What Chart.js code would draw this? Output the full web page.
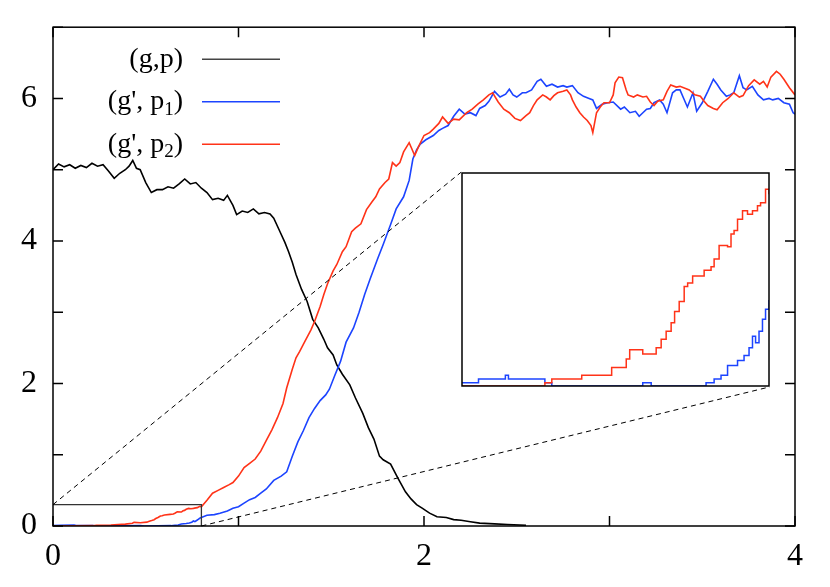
<!DOCTYPE html>
<html>
<head>
<meta charset="utf-8">
<title>(g,p) vs (g', p)</title>
<script src="https://cdn.jsdelivr.net/npm/chart.js@4.4.1/dist/chart.umd.min.js"></script>
<style>
  body { margin: 0; background: #fff; }
  #wrap { position: relative; width: 830px; height: 587px; }
  #inset { position: absolute; background: #fff; }
</style>
</head>
<body>
<div id="wrap">
  <canvas id="mainChart" width="830" height="587"></canvas>
  <div id="inset"><canvas id="insetChart"></canvas></div>
</div>
<script>
// ---- data ----
const seriesLabels = ['(g,p)', "(g', p_1)", "(g', p_2)"];
const xTicks = [0, 1, 2, 3, 4];
const yTicks = [0, 1, 2, 3, 4, 5, 6, 7];

const blackX = [0.00,0.03,0.06,0.09,0.12,0.15,0.18,0.21,0.24,0.27,0.30,0.33,0.36,0.39,0.41,0.43,0.45,0.47,0.50,0.53,
  0.56,0.59,0.62,0.65,0.68,0.71,0.74,0.77,0.80,0.83,0.86,0.89,0.92,0.94,0.97,0.99,1.02,1.05,1.08,1.11,
  1.14,1.17,1.19,1.22,1.25,1.27,1.29,1.31,1.34,1.37,1.40,1.43,1.46,1.48,1.51,1.53,1.56,1.60,1.63,1.67,
  1.70,1.73,1.76,1.78,1.82,1.86,1.90,1.93,1.96,1.99,2.03,2.07,2.12,2.16,2.20,2.25,2.30,2.38,2.45,2.55];
const blackY = [5.00,5.08,5.04,5.07,5.02,5.06,5.03,5.09,5.05,5.07,4.98,4.88,4.95,5.00,5.05,5.13,5.02,5.00,4.82,4.68,
  4.72,4.72,4.76,4.74,4.80,4.87,4.80,4.82,4.74,4.68,4.58,4.60,4.57,4.64,4.50,4.37,4.42,4.40,4.45,4.38,
  4.40,4.38,4.32,4.15,3.98,3.85,3.70,3.53,3.32,3.15,2.90,2.78,2.62,2.50,2.40,2.26,2.13,1.98,1.80,1.58,
  1.38,1.22,0.98,0.93,0.87,0.67,0.48,0.38,0.30,0.25,0.18,0.13,0.12,0.09,0.08,0.06,0.04,0.03,0.02,0.01];

// blue, x > 0.8 (the part below 0.8 is in the inset arrays)
const blueX = [0.83,0.87,0.90,0.94,0.97,1.00,1.03,1.06,1.09,1.12,1.15,1.19,1.23,1.26,1.29,1.32,1.35,1.38,1.41,1.44,
  1.47,1.49,1.52,1.55,1.58,1.62,1.65,1.68,1.71,1.75,1.78,1.82,1.85,1.89,1.92,1.94,1.96,1.98,2.01,2.05,
  2.08,2.10,2.13,2.16,2.19,2.22,2.25,2.28,2.30,2.33,2.35,2.38,2.41,2.44,2.46,2.48,2.50,2.53,2.55,2.58,
  2.61,2.63,2.66,2.69,2.72,2.75,2.77,2.80,2.83,2.86,2.89,2.91,2.93,2.96,2.99,3.02,3.06,3.08,3.11,3.14,
  3.16,3.18,3.20,3.22,3.24,3.27,3.29,3.31,3.34,3.36,3.38,3.40,3.42,3.45,3.47,3.50,3.53,3.56,3.58,3.60,
  3.63,3.65,3.67,3.70,3.72,3.74,3.77,3.80,3.83,3.86,3.88,3.91,3.94,3.97,3.99,4.00];
const blueY = [0.15,0.16,0.18,0.21,0.25,0.27,0.32,0.37,0.40,0.46,0.52,0.64,0.70,0.76,0.98,1.18,1.34,1.52,1.65,1.76,
  1.84,1.92,2.12,2.31,2.58,2.78,3.00,3.25,3.47,3.75,3.95,4.23,4.45,4.62,4.85,5.15,5.28,5.36,5.42,5.48,
  5.55,5.58,5.62,5.75,5.85,5.78,5.80,5.76,5.86,5.90,5.96,6.10,6.02,6.06,6.13,6.05,6.02,6.08,6.08,6.12,
  6.24,6.27,6.17,6.20,6.16,6.18,6.16,6.18,6.08,6.03,6.00,5.98,5.86,5.92,5.94,5.95,5.85,5.88,5.80,5.82,
  5.75,5.80,5.85,5.86,5.94,5.98,5.92,5.80,6.08,6.12,6.12,6.00,5.88,6.08,5.82,5.94,6.10,6.27,6.20,6.12,
  6.03,6.05,6.08,6.32,6.15,6.12,6.17,6.05,5.98,6.00,5.98,6.00,5.94,5.92,5.80,5.78];

// red, x > 0.8
const redX = [0.83,0.86,0.89,0.92,0.95,0.97,1.00,1.03,1.06,1.09,1.12,1.15,1.18,1.21,1.24,1.26,1.29,1.31,1.33,1.36,
  1.39,1.41,1.44,1.46,1.48,1.51,1.53,1.56,1.58,1.61,1.63,1.66,1.69,1.72,1.74,1.76,1.79,1.81,1.83,1.85,
  1.87,1.89,1.92,1.95,1.97,2.00,2.03,2.05,2.08,2.10,2.13,2.16,2.19,2.23,2.26,2.29,2.32,2.35,2.37,2.40,
  2.43,2.46,2.49,2.52,2.55,2.57,2.59,2.61,2.64,2.66,2.68,2.70,2.72,2.75,2.77,2.79,2.80,2.82,2.84,2.86,
  2.88,2.90,2.91,2.93,2.95,2.97,3.00,3.02,3.03,3.05,3.07,3.09,3.10,3.13,3.15,3.18,3.20,3.22,3.24,3.26,
  3.29,3.31,3.33,3.36,3.38,3.41,3.43,3.46,3.49,3.51,3.53,3.56,3.58,3.61,3.64,3.67,3.70,3.72,3.75,3.78,
  3.81,3.83,3.85,3.87,3.90,3.92,3.94,3.97,4.00];
const redY = [0.36,0.46,0.50,0.54,0.58,0.61,0.70,0.82,0.88,0.94,1.05,1.20,1.35,1.52,1.72,1.94,2.20,2.36,2.45,2.60,
  2.75,2.87,3.08,3.25,3.40,3.58,3.67,3.85,3.92,4.13,4.18,4.24,4.44,4.55,4.62,4.73,4.82,4.87,5.10,5.05,
  5.10,5.25,5.38,5.20,5.32,5.48,5.52,5.57,5.65,5.74,5.65,5.71,5.70,5.80,5.85,5.92,5.98,6.05,6.08,5.95,
  5.85,5.80,5.72,5.69,5.76,5.80,5.90,5.98,6.05,6.02,5.98,6.04,6.08,6.10,6.12,6.05,5.98,5.88,5.80,5.74,
  5.69,5.62,5.52,5.80,5.88,5.94,5.94,6.05,6.22,6.30,6.29,6.12,6.05,6.02,6.05,6.02,6.03,5.95,5.90,5.96,
  5.98,6.10,6.19,6.16,6.17,6.14,6.12,6.05,6.03,5.96,5.90,5.86,5.84,5.94,6.00,6.08,6.02,6.04,6.18,6.26,
  6.20,6.24,6.16,6.30,6.38,6.34,6.27,6.15,6.05];

// inset: 0 <= x <= 0.8, values change in steps
const blueInsetX = [0,0.043,0.113,0.121,0.216,0.234,0.471,0.493,0.636,0.657,0.675,0.692,0.718,0.735,0.748,0.757,0.765,0.774,0.783,0.791,0.8];
const blueInsetY = [0.0046,0.010,0.015,0.010,0.0046,0,0.0046,0,0.0046,0.010,0.015,0.029,0.036,0.043,0.054,0.070,0.061,0.077,0.094,0.108,0.121];
const redInsetX = [0,0.216,0.234,0.312,0.390,0.428,0.437,0.471,0.506,0.519,0.532,0.545,0.554,0.566,0.579,0.588,
  0.601,0.631,0.649,0.657,0.670,0.692,0.701,0.709,0.718,0.731,0.744,0.757,0.770,0.778,0.791,0.800];
const redInsetY = [0,0.0046,0.010,0.015,0.026,0.038,0.051,0.045,0.054,0.066,0.077,0.089,0.105,0.119,0.140,0.145,
  0.155,0.163,0.168,0.179,0.198,0.196,0.214,0.219,0.235,0.247,0.242,0.247,0.254,0.258,0.277,0.270];

// ---- layout ----
const zoomX = [0, 0.8];          // region shown magnified
const zoomY = [0, 0.3];
const insetBox = { x0: 2.2, x1: 3.865, y0: 1.953, y1: 4.965 };  // where the inset sits, in main axis units
const colors = ['#000000', '#1c44ff', '#ff3318'];
const serif = '"Liberation Serif", "DejaVu Serif", serif';

const pts = (xs, ys) => xs.map((v, i) => ({ x: v, y: ys[i] }));

// draws frame with inward ticks, zoom box, dashed connectors and the legend
const decorations = {
  id: 'decorations',
  afterDatasetsDraw(chart) {
    const { ctx, scales: { x, y } } = chart;
    const px = v => x.getPixelForValue(v), py = v => y.getPixelForValue(v);
    ctx.save();
    ctx.strokeStyle = '#333';
    ctx.lineWidth = 1.3;
    ctx.beginPath();
    ctx.moveTo(px(zoomX[0]), py(zoomY[1]));
    ctx.lineTo(px(zoomX[1]), py(zoomY[1]));
    ctx.lineTo(px(zoomX[1]), py(zoomY[0]));
    ctx.stroke();

    ctx.setLineDash([5, 4]);
    ctx.lineWidth = 1;
    ctx.strokeStyle = '#000';
    ctx.beginPath();
    ctx.moveTo(px(zoomX[0]), py(zoomY[1]));
    ctx.lineTo(px(insetBox.x0), py(insetBox.y1));
    ctx.moveTo(px(zoomX[1]), py(zoomY[0]));
    ctx.lineTo(px(insetBox.x1), py(insetBox.y0));
    ctx.stroke();
    ctx.restore();
  },
  afterDraw(chart) {
    const { ctx, chartArea: a, scales: { x, y } } = chart;
    ctx.save();
    ctx.strokeStyle = '#000';
    ctx.lineWidth = 1.5;
    ctx.strokeRect(a.left, a.top, a.right - a.left, a.bottom - a.top);
    ctx.beginPath();
    x.ticks.forEach(t => {
      const p = x.getPixelForValue(t.value);
      ctx.moveTo(p, a.bottom); ctx.lineTo(p, a.bottom - 10);
      ctx.moveTo(p, a.top); ctx.lineTo(p, a.top + 10);
    });
    y.ticks.forEach(t => {
      const p = y.getPixelForValue(t.value);
      ctx.moveTo(a.left, p); ctx.lineTo(a.left + 10, p);
      ctx.moveTo(a.right, p); ctx.lineTo(a.right - 10, p);
    });
    ctx.stroke();

    // legend, top left inside the plot
    const right = a.left + 130;
    ctx.textBaseline = 'middle';
    chart.data.datasets.forEach((ds, i) => {
      const rowY = a.top + 32 + i * 42.5;
      const m = ds.label.match(/^(.*)_(\w)(.*)$/);
      const parts = m ? [[m[1], 0], [m[2], 1], [m[3], 0]] : [[ds.label, 0]];
      const fontFor = sub => (sub ? 19 : 28) + 'px ' + serif;
      let w = 0;
      parts.forEach(([s, sub]) => { ctx.font = fontFor(sub); w += ctx.measureText(s).width; });
      let cx = right - w;
      ctx.fillStyle = '#000';
      ctx.textAlign = 'left';
      parts.forEach(([s, sub]) => {
        ctx.font = fontFor(sub);
        ctx.fillText(s, cx, rowY + (sub ? 8 : 0));
        cx += ctx.measureText(s).width;
      });
      ctx.strokeStyle = i === 0 ? '#444' : ds.borderColor;
      ctx.lineWidth = 1.4;
      ctx.beginPath();
      ctx.moveTo(a.left + 149, rowY);
      ctx.lineTo(a.left + 227, rowY);
      ctx.stroke();
    });
    ctx.restore();
  }
};

const mainChart = new Chart(document.getElementById('mainChart').getContext('2d'), {
  type: 'line',
  data: {
    datasets: [
      { label: seriesLabels[0], data: pts(blackX, blackY), borderColor: colors[0], order: 3 },
      { label: seriesLabels[1], data: pts(blueInsetX.concat(blueX), blueInsetY.concat(blueY)), borderColor: colors[1], order: 2 },
      { label: seriesLabels[2], data: pts(redInsetX.concat(redX), redInsetY.concat(redY)), borderColor: colors[2], order: 1 }
    ]
  },
  options: {
    responsive: false,
    animation: false,
    layout: { padding: { left: 0, right: 35, top: 21.5, bottom: 0 } },
    elements: { point: { radius: 0 }, line: { borderWidth: 1.6, tension: 0 } },
    plugins: { legend: { display: false }, tooltip: { enabled: false } },
    scales: {
      x: {
        type: 'linear', min: 0, max: 4,
        grid: { display: false }, border: { display: false },
        afterBuildTicks: s => { s.ticks = xTicks.map(v => ({ value: v })); },
        ticks: { padding: 3, color: '#000', font: { family: serif, size: 32 },
          callback: v => (v % 2 === 0 ? v : '') },
        afterFit: s => { s.height = 61; }
      },
      y: {
        min: 0, max: 7,
        grid: { display: false }, border: { display: false },
        afterBuildTicks: s => { s.ticks = yTicks.map(v => ({ value: v })); },
        ticks: { padding: 8, color: '#000', font: { family: serif, size: 32 },
          callback: v => (v % 2 === 0 ? v : '') },
        afterFit: s => { s.width = 53; }
      }
    }
  },
  plugins: [decorations]
});

// place the inset over the main chart, then draw it
const sx = mainChart.scales.x, sy = mainChart.scales.y;
const insetLeft = Math.round(sx.getPixelForValue(insetBox.x0));
const insetTop = Math.round(sy.getPixelForValue(insetBox.y1));
const insetW = Math.round(sx.getPixelForValue(insetBox.x1)) - insetLeft;
const insetH = Math.round(sy.getPixelForValue(insetBox.y0)) - insetTop;
const box = document.getElementById('inset');
Object.assign(box.style, { left: insetLeft + 'px', top: insetTop + 'px', width: insetW + 'px', height: insetH + 'px' });
const insetCanvas = document.getElementById('insetChart');
insetCanvas.width = insetW;
insetCanvas.height = insetH;

const insetBorder = {
  id: 'insetBorder',
  afterDraw(chart) {
    const { ctx, chartArea: a } = chart;
    ctx.save();
    ctx.strokeStyle = '#000';
    ctx.lineWidth = 1.5;
    ctx.strokeRect(a.left, a.top, a.right - a.left, a.bottom - a.top);
    ctx.restore();
  }
};

new Chart(insetCanvas.getContext('2d'), {
  type: 'line',
  data: {
    datasets: [
      { label: seriesLabels[1], data: pts(blueInsetX, blueInsetY), borderColor: colors[1], stepped: true, order: 2 },
      { label: seriesLabels[2], data: pts(redInsetX, redInsetY), borderColor: colors[2], stepped: true, order: 1 }
    ]
  },
  options: {
    responsive: false,
    animation: false,
    layout: { padding: 1 },
    elements: { point: { radius: 0 }, line: { borderWidth: 1.5 } },
    plugins: { legend: { display: false }, tooltip: { enabled: false } },
    scales: {
      x: { type: 'linear', min: zoomX[0], max: zoomX[1], display: false },
      y: { min: zoomY[0], max: zoomY[1], display: false }
    }
  },
  plugins: [insetBorder]
});
</script>
</body>
</html>
